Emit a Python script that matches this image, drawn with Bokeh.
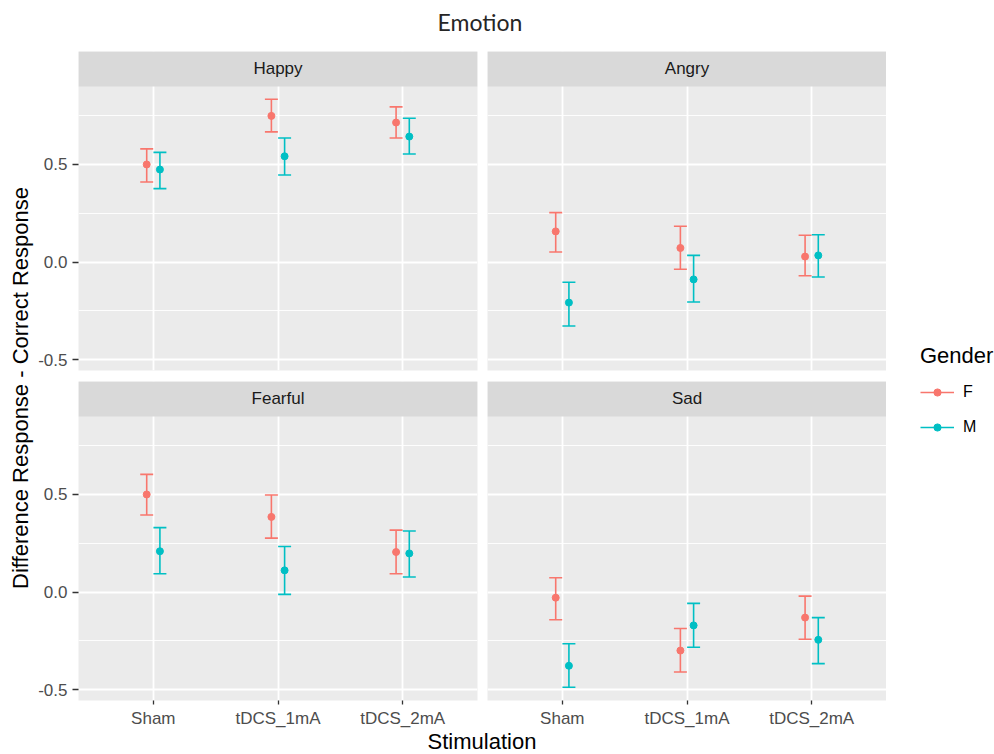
import math
from bokeh.plotting import figure
from bokeh.models import (Range1d, FixedTicker, PrintfTickFormatter, BoxAnnotation, Label,
                          ColumnDataSource, Legend, LegendItem)
from bokeh.layouts import row, column
from bokeh.embed import file_html
from bokeh.resources import INLINE
from bokeh.core.properties import value

# ---------------- data ----------------
stimulations = ["Sham", "tDCS_1mA", "tDCS_2mA"]
emotions = ["Happy", "Angry", "Fearful", "Sad"]
genders = ["F", "M"]

happy_f_mean = [0.500, 0.749, 0.715]
happy_f_low = [0.410, 0.667, 0.636]
happy_f_high = [0.580, 0.834, 0.795]
happy_m_mean = [0.474, 0.542, 0.643]
happy_m_low = [0.376, 0.446, 0.554]
happy_m_high = [0.562, 0.636, 0.737]

angry_f_mean = [0.157, 0.072, 0.028]
angry_f_low = [0.051, -0.037, -0.070]
angry_f_high = [0.253, 0.183, 0.137]
angry_m_mean = [-0.208, -0.089, 0.034]
angry_m_low = [-0.328, -0.205, -0.077]
angry_m_high = [-0.104, 0.034, 0.140]

fearful_f_mean = [0.500, 0.385, 0.205]
fearful_f_low = [0.395, 0.276, 0.094]
fearful_f_high = [0.603, 0.497, 0.317]
fearful_m_mean = [0.209, 0.111, 0.198]
fearful_m_low = [0.094, -0.012, 0.077]
fearful_m_high = [0.330, 0.233, 0.313]

sad_f_mean = [-0.029, -0.300, -0.131]
sad_f_low = [-0.142, -0.410, -0.242]
sad_f_high = [0.073, -0.187, -0.021]
sad_m_mean = [-0.378, -0.171, -0.245]
sad_m_low = [-0.488, -0.283, -0.367]
sad_m_high = [-0.265, -0.058, -0.131]

y_ticks = [-0.5, 0.0, 0.5]
y_minor_ticks = [-0.25, 0.25, 0.75]

DATA = {
    "Happy": {"F": (happy_f_mean, happy_f_low, happy_f_high),
              "M": (happy_m_mean, happy_m_low, happy_m_high)},
    "Angry": {"F": (angry_f_mean, angry_f_low, angry_f_high),
              "M": (angry_m_mean, angry_m_low, angry_m_high)},
    "Fearful": {"F": (fearful_f_mean, fearful_f_low, fearful_f_high),
                "M": (fearful_m_mean, fearful_m_low, fearful_m_high)},
    "Sad": {"F": (sad_f_mean, sad_f_low, sad_f_high),
            "M": (sad_m_mean, sad_m_low, sad_m_high)},
}

# ---------------- style ----------------
COLORS = {"F": "#F8766D", "M": "#00BFC4"}
DODGE = {"F": -0.053, "M": 0.053}
CAP = 0.052
LW = 1.6
DOT = 7
PANEL_BG = "#EBEBEB"
STRIP_BG = "#D9D9D9"
AX_FONT = "Liberation Sans"

X_START, X_END = 0.4, 3.6
Y_START, Y_END = -0.556, 1.079
STRIP_BOTTOM = 0.9
FRAME_W, FRAME_H = 399, 319


def make_panel(emotion, left_axis, bottom_axis, top_border, bottom_border, left_border, right_border):
    p = figure(title=None, x_range=Range1d(X_START, X_END), y_range=Range1d(Y_START, Y_END),
               frame_width=FRAME_W, frame_height=FRAME_H,
               toolbar_location=None, tools="", output_backend="svg",
               min_border_left=left_border, min_border_right=right_border,
               min_border_top=top_border, min_border_bottom=bottom_border)
    p.background_fill_color = PANEL_BG
    p.border_fill_color = "white"
    p.outline_line_color = None

    xt = FixedTicker(ticks=[i + 1 for i in range(len(stimulations))])
    yt = FixedTicker(ticks=y_ticks, minor_ticks=y_minor_ticks)
    p.xaxis.ticker = xt
    p.yaxis.ticker = yt
    p.xgrid.ticker = xt
    p.ygrid.ticker = yt

    p.xgrid.grid_line_color = "white"
    p.xgrid.grid_line_width = 1.8
    p.ygrid.grid_line_color = "white"
    p.ygrid.grid_line_width = 1.8
    p.ygrid.minor_grid_line_color = "white"
    p.ygrid.minor_grid_line_width = 0.9

    for ax in (p.xaxis[0], p.yaxis[0]):
        ax.axis_line_color = None
        ax.minor_tick_line_color = None
        ax.major_tick_in = 0
        ax.major_tick_line_color = "#333333"
        ax.major_tick_line_width = 1.3
        ax.major_label_text_font = AX_FONT
        ax.major_label_text_font_size = "17px"
        ax.major_label_text_color = "#4D4D4D"

    p.yaxis.formatter = PrintfTickFormatter(format="%.1f")
    p.yaxis.major_tick_out = 6
    p.yaxis.major_label_standoff = 5
    p.xaxis.major_tick_out = 4
    p.xaxis.major_label_standoff = 4
    p.xaxis.major_label_overrides = {i + 1: s for i, s in enumerate(stimulations)}

    p.xaxis.visible = bottom_axis
    p.yaxis.visible = left_axis

    for g in genders:
        mean, low, high = DATA[emotion][g]
        xs = [i + 1 + DODGE[g] for i in range(len(stimulations))]
        src = ColumnDataSource(dict(
            x=xs, mean=mean, low=low, high=high,
            cl=[x - CAP for x in xs], cr=[x + CAP for x in xs]))
        col = COLORS[g]
        p.segment(x0="x", y0="low", x1="x", y1="high", source=src, line_color=col, line_width=LW)
        p.segment(x0="cl", y0="low", x1="cr", y1="low", source=src, line_color=col, line_width=LW)
        p.segment(x0="cl", y0="high", x1="cr", y1="high", source=src, line_color=col, line_width=LW)
        p.scatter(x="x", y="mean", source=src, size=DOT, fill_color=col, line_color=col)

    p.add_layout(BoxAnnotation(bottom=STRIP_BOTTOM, fill_color=STRIP_BG, fill_alpha=1.0,
                               line_color=None))
    p.add_layout(Label(x=(X_START + X_END) / 2, y=(STRIP_BOTTOM + Y_END) / 2, text=emotion,
                       text_align="center", text_baseline="middle", text_font=AX_FONT,
                       text_font_size="17px", text_color="#1A1A1A"))
    return p


def text_fig(w, h, x, y, txt, font, size, color, angle=0.0):
    p = figure(title=None, width=w, height=h, x_range=Range1d(0, w), y_range=Range1d(0, h),
               x_axis_type=None, y_axis_type=None,
               toolbar_location=None, tools="", output_backend="svg", min_border=0)
    p.outline_line_color = None
    p.background_fill_color = "white"
    p.border_fill_color = "white"
    p.text(x=[x], y=[y], text=[txt], angle=angle, text_font=value(font),
           text_font_size=value(size), text_color=color, text_align="center",
           text_baseline="alphabetic")
    return p


TOTAL_W = 994
TITLE_H = 51
XLAB_H = 24
YLAB_W = 34
LEG_W = 108
MID_H = 325 + 354

tl = make_panel("Happy", True, False, 0, 6, 44, 5)
tr = make_panel("Angry", False, False, 0, 6, 5, 0)
bl = make_panel("Fearful", True, True, 5, 30, 44, 5)
br = make_panel("Sad", False, True, 5, 30, 5, 0)

title_fig = text_fig(TOTAL_W, TITLE_H, 479.5, 29.3, "Emotion", "Lato", "23px", "#262626")
ylab_fig = text_fig(YLAB_W, MID_H, 20, 342.5, "Difference Response - Correct Response",
                    AX_FONT, "22px", "black", angle=math.pi / 2)
xlab_fig = text_fig(TOTAL_W, XLAB_H, 481.5, 13, "Stimulation", AX_FONT, "22px", "black")

# legend figure (renderers hold one off-screen point so the legend can draw their glyphs)
lp = figure(title=None, width=LEG_W, height=MID_H, x_range=Range1d(0, 1), y_range=Range1d(0, 1),
            x_axis_type=None, y_axis_type=None,
            toolbar_location=None, tools="", output_backend="svg", min_border=0)
lp.outline_line_color = None
lsrc = ColumnDataSource(dict(x=[-10.0], y=[-10.0]))
items = []
for g in genders:
    r1 = lp.segment(x0="x", y0="y", x1="x", y1="y", source=lsrc, line_color=COLORS[g], line_width=LW)
    r2 = lp.scatter(x="x", y="y", source=lsrc, size=DOT, fill_color=COLORS[g], line_color=COLORS[g])
    items.append(LegendItem(label=g, renderers=[r1, r2]))
legend = Legend(items=items, location=(34, 294), title="Gender", orientation="vertical",
                glyph_width=34, glyph_height=18, label_height=18, label_standoff=9,
                spacing=17, padding=0, margin=0, border_line_color=None,
                background_fill_alpha=0,
                title_text_font=AX_FONT, title_text_font_size="22px",
                title_text_font_style="normal", title_text_color="black", title_standoff=14,
                label_text_font=AX_FONT, label_text_font_size="16px", label_text_color="black")
lp.add_layout(legend)

panels = column(row(tl, tr), row(bl, br))
layout = column(title_fig, row(ylab_fig, panels, lp), xlab_fig)

open("out.html", "w").write(file_html(layout, INLINE))
